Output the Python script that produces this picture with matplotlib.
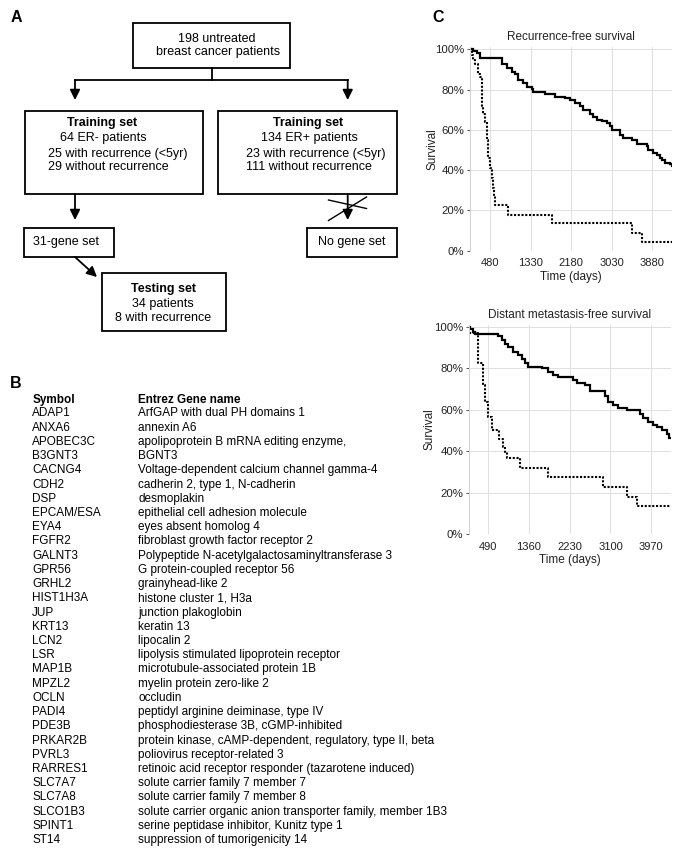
import matplotlib.pyplot as plt
from matplotlib.patches import Rectangle
from matplotlib.ticker import FuncFormatter

plt.rcParams['font.family'] = ['Liberation Sans', 'DejaVu Sans']

# panel B table
symbols = ["ADAP1", "ANXA6", "APOBEC3C", "B3GNT3", "CACNG4", "CDH2", "DSP",
           "EPCAM/ESA", "EYA4", "FGFR2", "GALNT3", "GPR56", "GRHL2", "HIST1H3A",
           "JUP", "KRT13", "LCN2", "LSR", "MAP1B", "MPZL2", "OCLN", "PADI4",
           "PDE3B", "PRKAR2B", "PVRL3", "RARRES1", "SLC7A7", "SLC7A8", "SLCO1B3",
           "SPINT1", "ST14"]
gene_names = ["ArfGAP with dual PH domains 1",
              "annexin A6",
              "apolipoprotein B mRNA editing enzyme,",
              "BGNT3",
              "Voltage-dependent calcium channel gamma-4",
              "cadherin 2, type 1, N-cadherin",
              "desmoplakin",
              "epithelial cell adhesion molecule",
              "eyes absent homolog 4",
              "fibroblast growth factor receptor 2",
              "Polypeptide N-acetylgalactosaminyltransferase 3",
              "G protein-coupled receptor 56",
              "grainyhead-like 2",
              "histone cluster 1, H3a",
              "junction plakoglobin",
              "keratin 13",
              "lipocalin 2",
              "lipolysis stimulated lipoprotein receptor",
              "microtubule-associated protein 1B",
              "myelin protein zero-like 2",
              "occludin",
              "peptidyl arginine deiminase, type IV",
              "phosphodiesterase 3B, cGMP-inhibited",
              "protein kinase, cAMP-dependent, regulatory, type II, beta",
              "poliovirus receptor-related 3",
              "retinoic acid receptor responder (tazarotene induced)",
              "solute carrier family 7 member 7",
              "solute carrier family 7 member 8",
              "solute carrier organic anion transporter family, member 1B3",
              "serine peptidase inhibitor, Kunitz type 1",
              "suppression of tumorigenicity 14"]

# panel C, Kaplan-Meier steps (days, % surviving)
rfs_low_t = [53, 122, 193, 263, 732, 825, 930, 999, 1069, 1174, 1245, 1351, 1384,
             1631, 1841, 2051, 2157, 2262, 2367, 2424, 2577, 2647, 2718, 2823, 2929,
             2998, 3034, 3209, 3278, 3455, 3560, 3770, 3804, 3909, 3981, 4050, 4086,
             4155, 4261, 4296]
rfs_low_s = [100, 99.2, 98.3, 95.9, 92.6, 90.9, 88.9, 87.5, 85.0, 83.4, 81.4, 80.1, 78.7,
             77.6, 76.4, 75.6, 74.7, 73.4, 71.7, 70.1, 68.1, 66.5, 65.1, 64.3, 63.5,
             61.8, 60.1, 57.6, 56.0, 55.2, 53.2, 52.2, 50.2, 48.5, 47.7, 46.0, 44.8,
             43.5, 43.2, 42.2]
rfs_high_t = [53, 88, 122, 158, 227, 263, 298, 315, 333, 368, 404, 421, 438, 473, 509,
              537, 558, 579, 858, 1771, 3455, 3665, 4296]
rfs_high_s = [100, 97, 94.5, 92.5, 87.5, 86.5, 77, 72, 68, 64, 55, 50, 46, 41, 36,
              31, 27, 22.7, 17.8, 13.6, 9.0, 4.5, 4.5]

dmfs_low_t = [79, 110, 160, 207, 705, 777, 848, 918, 1025, 1132, 1204, 1275, 1345,
              1631, 1772, 1879, 1986, 2306, 2378, 2556, 2662, 2983, 3053, 3160, 3267,
              3446, 3730, 3800, 3907, 4014, 4086, 4193, 4300, 4355, 4392]
dmfs_low_s = [100, 98.7, 97.6, 96.5, 95.5, 93.6, 91.7, 90.1, 87.9, 86.3, 84.3, 82.6, 80.7,
              79.9, 78.3, 76.7, 75.6, 74.3, 73.0, 71.9, 69.1, 66.6, 63.8, 62.2, 60.6,
              59.8, 57.9, 55.8, 54.2, 52.6, 51.5, 50.2, 48.2, 46.2, 46.2]
dmfs_high_t = [79, 278, 384, 420, 491, 563, 720, 795, 850, 890, 1168, 1772, 2933,
               3446, 3659, 4392]
dmfs_high_s = [96.8, 82.3, 72, 63.8, 56.6, 50.2, 46, 42, 39.5, 36.8, 32, 27.3, 22.7,
               18.0, 13.4, 13.4]

rfs_ticks = [480, 1330, 2180, 3030, 3880]
dmfs_ticks = [490, 1360, 2230, 3100, 3970]

fig = plt.figure(figsize=(6.85, 8.59), dpi=100)

# canvas in pixel coords for panels A and B
cv = fig.add_axes([0, 0, 1, 1])
cv.set_xlim(0, 685)
cv.set_ylim(859, 0)
cv.axis('off')

FS = 9
LW = 1.3


def box(x0, y0, x1, y1):
    cv.add_patch(Rectangle((x0, y0), x1 - x0, y1 - y0, fill=False, lw=LW, ec='k'))


def arrow(x0, y0, x1, y1):
    cv.annotate("", xy=(x1, y1), xytext=(x0, y0),
                arrowprops=dict(arrowstyle='-|>', mutation_scale=15, lw=LW, color='k',
                                shrinkA=0, shrinkB=0))


cv.text(16, 18, "A", fontsize=11.5, fontweight='bold', ha='center', va='center')
cv.text(16, 384, "B", fontsize=11.5, fontweight='bold', ha='center', va='center')
cv.text(438, 18, "C", fontsize=11.5, fontweight='bold', ha='center', va='center')

# top box
box(133.3, 23.3, 290, 68.3)
cv.text(217, 38.5, "198 untreated", fontsize=FS, ha='center', va='center')
cv.text(218, 52, "breast cancer patients", fontsize=FS, ha='center', va='center')
cv.plot([211.7, 211.7], [68.3, 80], color='k', lw=LW)
cv.plot([75, 347.7], [80, 80], color='k', lw=LW)
arrow(75, 80, 75, 100)
arrow(347.7, 80, 347.7, 100)

# training boxes
box(25, 111, 203.3, 194)
cv.text(102.5, 123, "Training set", fontsize=FS, fontweight='bold', ha='center', va='center')
cv.text(103, 138, "64 ER- patients", fontsize=FS, ha='center', va='center')
cv.text(48.3, 153.5, "25 with recurrence (<5yr)", fontsize=FS, ha='left', va='center')
cv.text(48.3, 167, "29 without recurrence", fontsize=FS, ha='left', va='center')

box(218.3, 111, 396.7, 194)
cv.text(308.3, 123, "Training set", fontsize=FS, fontweight='bold', ha='center', va='center')
cv.text(309, 138, "134 ER+ patients", fontsize=FS, ha='center', va='center')
cv.text(245.7, 153.5, "23 with recurrence (<5yr)", fontsize=FS, ha='left', va='center')
cv.text(246.5, 167, "111 without recurrence", fontsize=FS, ha='left', va='center')

arrow(75, 194, 75, 220)
arrow(347.7, 194, 347.7, 220)
cv.plot([328.5, 366.5], [220.5, 197], color='k', lw=1.0)
cv.plot([328.5, 366.5], [200, 208.5], color='k', lw=1.0)

box(24, 228.3, 114.3, 256.7)
cv.text(66.5, 242.5, "31-gene set", fontsize=FS, ha='center', va='center')
box(306.7, 228.3, 397.3, 256.7)
cv.text(352, 242.5, "No gene set", fontsize=FS, ha='center', va='center')

arrow(75, 257, 97, 277)
box(101.7, 273.3, 225.7, 330.7)
cv.text(164, 289, "Testing set", fontsize=FS, fontweight='bold', ha='center', va='center')
cv.text(162.5, 303.5, "34 patients", fontsize=FS, ha='center', va='center')
cv.text(163, 318, "8 with recurrence", fontsize=FS, ha='center', va='center')

# panel B table
TS = 8.5
cv.text(32.3, 400, "Symbol", fontsize=TS, fontweight='bold', ha='left', va='center')
cv.text(138.3, 400, "Entrez Gene name", fontsize=TS, fontweight='bold', ha='left', va='center')
for i, (sym, name) in enumerate(zip(symbols, gene_names)):
    y = 413.5 + i * 14.22
    cv.text(32.3, y, sym, fontsize=TS, ha='left', va='center')
    cv.text(138.3, y, name, fontsize=TS, ha='left', va='center')


# panel C
def km_axes(rect, title, xlim, ticks, low_t, low_s, high_t, high_s, ylab_x):
    ax = fig.add_axes(rect)
    ax.step(low_t, low_s, where='post', color='k', lw=1.6, solid_joinstyle='miter')
    ax.step(high_t, high_s, where='post', color='k', lw=1.5, linestyle=(0, (1, 0.8)))
    ax.set_xlim(*xlim)
    ax.set_ylim(0, 101)
    ax.set_xticks(ticks)
    ax.set_yticks([0, 20, 40, 60, 80, 100])
    ax.yaxis.set_major_formatter(FuncFormatter(lambda v, p: "%d%%" % v))
    ax.grid(True, color='#e0e0e0', lw=0.7)
    ax.set_axisbelow(True)
    for s in ['top', 'right', 'bottom']:
        ax.spines[s].set_visible(False)
    ax.spines['left'].set_color('#d0d0d0')
    ax.spines['left'].set_linewidth(0.7)
    ax.tick_params(axis='x', length=0, pad=5.5, labelsize=8, labelcolor='#222222')
    ax.tick_params(axis='y', length=2.5, width=0.7, color='#555555', pad=1.5,
                   labelsize=8.2, labelcolor='#222222')
    ax.set_title(title, fontsize=8.5, color='#222222', pad=5)
    ax.set_xlabel("Time (days)", fontsize=8.5, color='#222222', labelpad=2)
    ax.set_ylabel("Survival", fontsize=8.5, color='#222222')
    ax.yaxis.set_label_coords(ylab_x, 0.5)
    return ax


km_axes([470 / 685, 1 - 250.7 / 859, 201.7 / 685, 203.4 / 859],
        "Recurrence-free survival", (52, 4296), rfs_ticks,
        rfs_low_t, rfs_low_s, rfs_high_t, rfs_high_s, -0.155)
km_axes([469 / 685, 1 - 534 / 859, 202 / 685, 209.4 / 859],
        "Distant metastasis-free survival", (79, 4392), dmfs_ticks,
        dmfs_low_t, dmfs_low_s, dmfs_high_t, dmfs_high_s, -0.165)

fig.savefig("out.png", dpi=100)
